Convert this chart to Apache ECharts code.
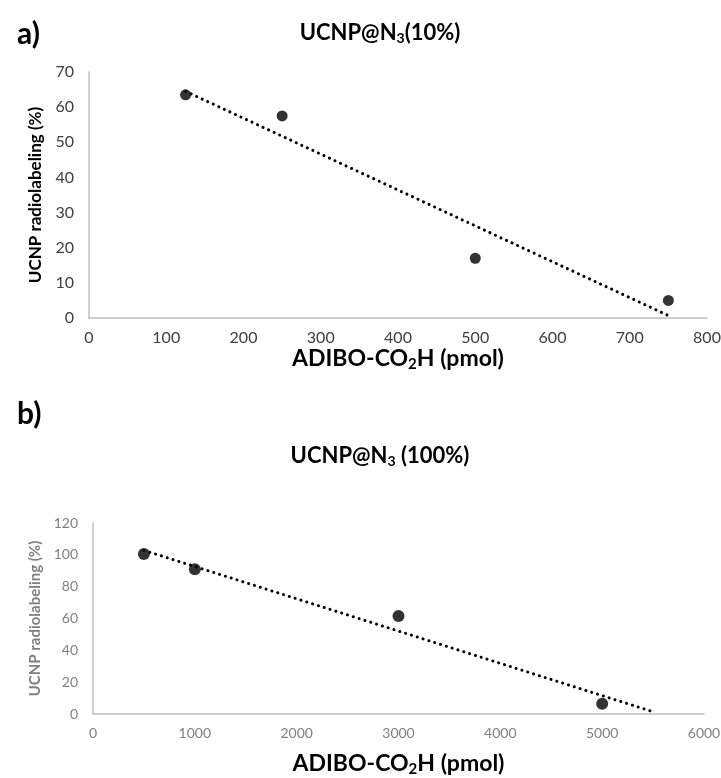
<!DOCTYPE html>
<html><head><meta charset="utf-8">
<script src="https://cdn.jsdelivr.net/npm/echarts@6/dist/echarts.min.js"></script>
<style>html,body{margin:0;padding:0;background:#fff}#c{width:721px;height:778px}</style>
</head><body><div id="c"></div>
<script>
// Panel a
const aPoints = [[125, 63.5], [250, 57.5], [500, 17], [750, 5]];
const aTrend = [[125, 64.5], [750, 0.7]];
const aXTicks = [0, 800, 100];
const aYTicks = [0, 70, 10];
// Panel b
const bPoints = [[500, 100.5], [1000, 91], [3000, 61.5], [5000, 6.5]];
const bTrend = [[500, 102.8], [5500, 1.4]];
const bXTicks = [0, 6000, 1000];
const bYTicks = [0, 120, 20];

const F = 'Lato, "Noto Sans", sans-serif';
const chart = echarts.init(document.getElementById('c'));
function rich(size, color) {
  return {
    fontFamily: F, fontWeight: 'bold', fontSize: size, color: color,
    rich: {s: {fontFamily: F, fontWeight: 'bold', fontSize: Math.round(size * 0.65), color: color, verticalAlign: 'bottom', padding: [Math.round(size*0.5), 0, 0, 0]}}
  };
}
const plain = v => String(v);
chart.setOption({
  animation: false,
  title: [
    {text: 'a)', left: 12, top: 14, textStyle: {fontFamily: F, fontWeight: 'bold', fontSize: 30, color: '#000'}},
    {text: 'UCNP@N{s|3}(10%)', left: 375, textAlign: 'center', top: 15, textStyle: rich(22, '#000')},
    {text: 'b)', left: 12, top: 394, textStyle: {fontFamily: F, fontWeight: 'bold', fontSize: 30, color: '#000'}},
    {text: 'UCNP@N{s|3} (100%)', left: 375, textAlign: 'center', top: 438, textStyle: rich(22, '#000')}
  ],
  grid: [
    {left: 89, right: 14, top: 72, height: 246, outerBoundsMode: 'none', containLabel: false},
    {left: 93, right: 17, top: 523, height: 191, outerBoundsMode: 'none', containLabel: false}
  ],
  xAxis: [
    {gridIndex: 0, type: 'value', min: aXTicks[0], max: aXTicks[1], interval: aXTicks[2],
     splitLine: {show: false}, axisTick: {show: false},
     axisLine: {lineStyle: {color: '#bfbfbf', width: 1.5}},
     axisLabel: {fontFamily: F, fontSize: 16, color: '#404040', margin: 12, formatter: plain},
     name: 'ADIBO-CO{s|2}H (pmol)', nameLocation: 'middle', nameGap: 25, nameTextStyle: rich(23, '#000')},
    {gridIndex: 1, type: 'value', min: bXTicks[0], max: bXTicks[1], interval: bXTicks[2],
     splitLine: {show: false}, axisTick: {show: false},
     axisLine: {lineStyle: {color: '#bfbfbf', width: 1.5}},
     axisLabel: {fontFamily: F, fontSize: 14, color: '#808080', margin: 12, formatter: plain},
     name: 'ADIBO-CO{s|2}H (pmol)', nameLocation: 'middle', nameGap: 36, nameTextStyle: rich(23, '#000')}
  ],
  yAxis: [
    {gridIndex: 0, type: 'value', min: aYTicks[0], max: aYTicks[1], interval: aYTicks[2],
     splitLine: {show: false}, axisTick: {show: false},
     axisLine: {show: true, lineStyle: {color: '#bfbfbf', width: 1.5}},
     axisLabel: {fontFamily: F, fontSize: 16, color: '#404040', margin: 15, formatter: plain},
     name: 'UCNP radiolabeling (%)', nameLocation: 'middle', nameGap: 45,
     nameTextStyle: {fontFamily: F, fontWeight: 'bold', fontSize: 17, color: '#000'}},
    {gridIndex: 1, type: 'value', min: bYTicks[0], max: bYTicks[1], interval: bYTicks[2],
     splitLine: {show: false}, axisTick: {show: false},
     axisLine: {show: true, lineStyle: {color: '#bfbfbf', width: 1.5}},
     axisLabel: {fontFamily: F, fontSize: 14, color: '#808080', margin: 15, formatter: plain},
     name: 'UCNP radiolabeling (%)', nameLocation: 'middle', nameGap: 48,
     nameTextStyle: {fontFamily: F, fontWeight: 'bold', fontSize: 15, color: '#808080'}}
  ],
  series: [
    {type: 'line', xAxisIndex: 0, yAxisIndex: 0, data: aTrend, symbol: 'none',
     lineStyle: {color: '#000', width: 3, type: [0.1, 6], cap: 'round'}, z: 2},
    {type: 'scatter', xAxisIndex: 0, yAxisIndex: 0, data: aPoints, symbolSize: 11,
     itemStyle: {color: '#000'}, z: 3},
    {type: 'line', xAxisIndex: 1, yAxisIndex: 1, data: bTrend, symbol: 'none',
     lineStyle: {color: '#000', width: 3, type: [0.1, 6], cap: 'round'}, z: 2},
    {type: 'scatter', xAxisIndex: 1, yAxisIndex: 1, data: bPoints, symbolSize: 12,
     itemStyle: {color: '#000'}, z: 3}
  ]
});
</script></body></html>
